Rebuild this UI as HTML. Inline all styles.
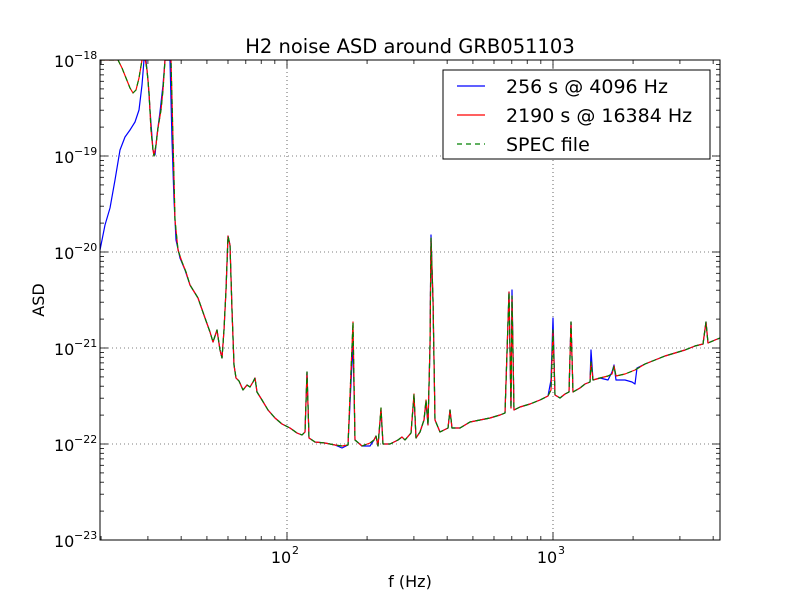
<!DOCTYPE html>
<html><head><meta charset="utf-8"><style>
body{margin:0;background:#fff;}
svg{font-family:"DejaVu Sans","Liberation Sans",sans-serif;}
</style></head><body>
<svg id="s" width="800" height="600" viewBox="0 0 800 600" xmlns="http://www.w3.org/2000/svg">
<rect width="800" height="600" fill="#fff"/>
<g id="grid" stroke="#000" stroke-width="0.6" stroke-dasharray="1,3"></g>
<defs><clipPath id="c"><rect x="100" y="60" width="620" height="480"/></clipPath></defs>
<g clip-path="url(#c)" fill="none" stroke-width="1.2" stroke-linejoin="round">
<polyline stroke="#0000ff" points="100,250 105,225 110,208 115,180 120,150 125,137 130,130 135,122 139,110 142,85 144,60 146,60 148,80 150,110 153,150 155,155 157,135 160,112 163,85 165,60 170,60 172,140 174,200 176,240 180,258 185,270 190,285 198,298 205,318 210,332 213,342 217,330 220,350 222,358 224,330 226,290 228,236 230,245 232,310 234,365 236,378 239,381 243,390 247,385 250,387 253,382 255,378 257,392 262,400 268,410 275,418 282,424 290,428 297,433 302,435 305,432 307,372 309,438 315,442 325,443 335,445 342,448 348,445 353,342 355,440 362,446 370,446 374,440 376,436 378,446 381,410 383,444 390,444 398,440 402,437 405,440 411,433 414,396 416,438 420,432 424,420 426,402 428,425 430,346 431,235 433,300 435,420 440,432 448,428 450,410 452,428 460,428 470,422 480,420 490,418 500,415 505,413 509,292 511,408 512,290 514,410 520,407 530,404 540,400 548,396 551,380 553,318 555,395 560,398 565,394 569,392 571,322 573,392 580,388 585,384 590,382 591,350 593,380 600,378 608,380 612,372 614,365 616,380 625,380 632,382 635,384 637,368 645,364 655,360 665,356 675,353 685,350 695,346 703,344 706,322 708,343 715,340 720,338"/>
<polyline stroke="#ff0000" points="100,60 118,60 122,68 126,78 130,88 133,93 136,90 139,78 142,60 145,58 147,70 149,92 151,130 153,150 154,156 156,145 158,128 161,110 163,90 165,60 170,60 171,60 173,140 175,220 178,250 182,262 186,272 190,285 198,298 205,318 210,332 213,342 217,330 220,350 222,358 224,330 226,290 228,236 230,245 232,310 234,365 236,378 239,381 243,390 247,385 250,387 253,382 255,378 257,392 262,400 268,410 275,418 282,424 290,428 297,433 302,435 305,432 307,372 309,438 315,442 325,443 335,445 342,446 348,445 353,322 355,440 362,446 370,443 374,440 376,436 378,446 381,408 383,444 390,444 398,440 402,437 405,440 411,433 414,394 416,438 420,432 424,420 426,400 428,425 430,346 431,238 433,300 435,420 440,432 448,428 450,410 452,428 460,428 470,422 480,420 490,418 500,415 505,413 509,292 511,408 512,296 514,410 520,407 530,404 540,400 548,396 551,390 553,330 555,395 560,398 565,394 569,392 571,322 573,392 580,388 585,384 590,382 591,362 593,380 600,378 608,376 612,374 614,366 616,376 625,374 635,370 645,364 655,360 665,356 675,353 685,350 695,346 703,344 706,322 708,343 715,340 720,338"/>
<polyline stroke="#008000" stroke-dasharray="5,4" points="100,60 118,60 122,68 126,78 130,88 133,93 136,90 139,78 142,60 145,58 147,70 149,92 151,130 153,150 154,156 156,145 158,128 161,110 163,90 165,60 170,60 171,60 173,140 175,220 178,250 182,262 186,272 190,285 198,298 205,318 210,332 213,342 217,330 220,350 222,358 224,330 226,290 228,236 230,245 232,310 234,365 236,378 239,381 243,390 247,385 250,387 253,382 255,378 257,392 262,400 268,410 275,418 282,424 290,428 297,433 302,435 305,432 307,372 309,438 315,442 325,443 335,445 342,446 348,445 353,322 355,440 362,446 370,443 374,440 376,436 378,446 381,408 383,444 390,444 398,440 402,437 405,440 411,433 414,394 416,438 420,432 424,420 426,400 428,425 430,346 431,238 433,300 435,420 440,432 448,428 450,410 452,428 460,428 470,422 480,420 490,418 500,415 505,413 509,292 511,408 512,296 514,410 520,407 530,404 540,400 548,396 551,390 553,330 555,395 560,398 565,394 569,392 571,322 573,392 580,388 585,384 590,382 591,362 593,380 600,378 608,376 612,374 614,366 616,376 625,374 635,370 645,364 655,360 665,356 675,353 685,350 695,346 703,344 706,322 708,343 715,340 720,338"/>
</g>
<g id="ticks" stroke="#000" stroke-width="0.8"></g>
<rect x="100" y="60" width="620" height="480" fill="none" stroke="#000" stroke-width="1"/>
<g id="labels" font-size="16" fill="#000"></g>
<text x="410" y="53" font-size="19.5" text-anchor="middle">H2 noise ASD around GRB051103</text>
<text x="410" y="587" font-size="16" text-anchor="middle">f (Hz)</text>
<text x="44" y="300" font-size="16" text-anchor="middle" transform="rotate(-90 44 300)">ASD</text>
<g>
<rect x="443" y="70" width="267" height="89" fill="#fff" stroke="#000" stroke-width="1"/>
<line x1="457" y1="86" x2="485" y2="86" stroke="#0000ff" stroke-width="1.2"/>
<line x1="457" y1="115" x2="485" y2="115" stroke="#ff0000" stroke-width="1.2"/>
<line x1="457" y1="144" x2="485" y2="144" stroke="#008000" stroke-width="1.2" stroke-dasharray="5,4"/>
<text x="506" y="93" font-size="19">256 s @ 4096 Hz</text>
<text x="506" y="122" font-size="19">2190 s @ 16384 Hz</text>
<text x="506" y="151" font-size="19">SPEC file</text>
</g>
<script>
var ns="http://www.w3.org/2000/svg";
function el(p,t,a,txt){var e=document.createElementNS(ns,t);for(var k in a)e.setAttribute(k,a[k]);if(txt)e.textContent=txt;document.getElementById(p).appendChild(e);return e;}
function X(f){return 287+266*(Math.log10(f)-2);}
for(var d=10;d<=1000;d*=10){for(var k=1;k<10;k++){var f=d*k;var x=X(f);if(x<100||x>720)continue;var L=(k==1)?8:4;
el("ticks","line",{x1:x,y1:540,x2:x,y2:540-L});el("ticks","line",{x1:x,y1:60,x2:x,y2:60+L});
if(k==1){el("grid","line",{x1:x,y1:60,x2:x,y2:540});}}}
[[287,"2"],[553,"3"]].forEach(function(p){el("labels","text",{x:p[0]-6,y:563,"text-anchor":"middle"},"10");el("labels","text",{x:p[0]+5,y:554,"font-size":"11"},p[1]);});
for(var i=0;i<=5;i++){var yb=540-96*i;el("ticks","line",{x1:100,y1:yb,x2:108,y2:yb});el("ticks","line",{x1:720,y1:yb,x2:712,y2:yb});
if(i>0&&i<5)el("grid","line",{x1:100,y1:yb,x2:720,y2:yb});
el("labels","text",{x:54,y:yb+7},"10");el("labels","text",{x:74,y:yb-1,"font-size":"11"},"\u2212"+(23-i));
if(i<5)for(var k=2;k<10;k++){var y=yb-96*Math.log10(k);el("ticks","line",{x1:100,y1:y,x2:104,y2:y});el("ticks","line",{x1:720,y1:y,x2:716,y2:y});}}
</script>
</svg>
</body></html>
